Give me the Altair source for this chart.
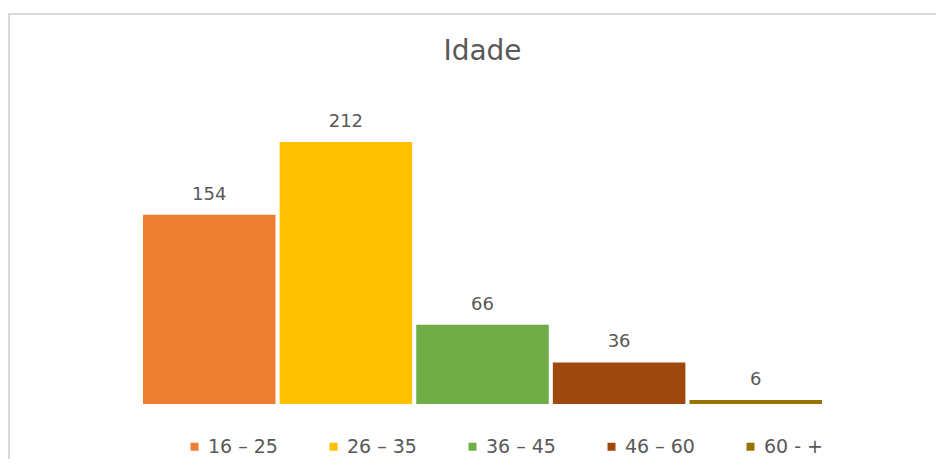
import altair as alt
import pandas as pd

categories = ["16 – 25", "26 – 35", "36 – 45", "46 – 60", "60 - +"]
values = [154, 212, 66, 36, 6]
colors = ["#ED7D31", "#FFC000", "#70AD47", "#9E480E", "#997300"]
title_text = "Idade"

df = pd.DataFrame({"Faixa": categories, "Valor": values})
one = pd.DataFrame({"t": [title_text]})

x_enc = alt.X("Faixa:N", sort=categories, axis=None,
              scale=alt.Scale(domain=categories, paddingInner=0.03, paddingOuter=0))
y_scale = alt.Scale(domain=[2.8, 212], zero=False, nice=False)

bars = alt.Chart(df).mark_bar(clip=True).encode(
    x=x_enc,
    y=alt.Y("Valor:Q", scale=y_scale, axis=None),
    color=alt.Color(
        "Faixa:N",
        scale=alt.Scale(domain=categories, range=colors),
        legend=alt.Legend(
            title=None, orient="none", direction="horizontal",
            legendX=42, legendY=295, padding=0,
            symbolType="square", symbolSize=64, symbolStrokeWidth=0,
            labelFont="DejaVu Sans", labelFontSize=19, labelColor="#595959",
            labelOffset=4, columnPadding=46,
        ),
    ),
)

labels = alt.Chart(df).mark_text(
    font="DejaVu Sans", fontSize=18, color="#595959",
    baseline="alphabetic", align="center", dy=-15,
).encode(
    x=x_enc,
    y=alt.Y("Valor:Q", scale=y_scale, axis=None),
    text=alt.Text("Valor:Q"),
)

title = alt.Chart(one).mark_text(
    font="DejaVu Sans", fontSize=28, color="#595959",
    baseline="alphabetic", align="center",
).encode(x=alt.value(339.5), y=alt.value(-82), text="t:N")

top_border = alt.Chart(one).mark_rule(color="#D9D9D9", strokeWidth=2).encode(
    x=alt.value(-134), x2=alt.value(800), y=alt.value(-128)
)
left_border = alt.Chart(one).mark_rule(color="#D9D9D9", strokeWidth=2).encode(
    x=alt.value(-134), y=alt.value(-129), y2=alt.value(320)
)

chart = alt.layer(top_border, left_border, bars, labels, title).properties(
    width=679, height=262,
    autosize=alt.AutoSizeParams(type="none"),
    padding={"left": 135, "top": 134, "right": 114, "bottom": 55},
    background="white",
).configure_view(stroke=None)

chart.save("out.html", embed_options={"renderer": "svg", "actions": False})
